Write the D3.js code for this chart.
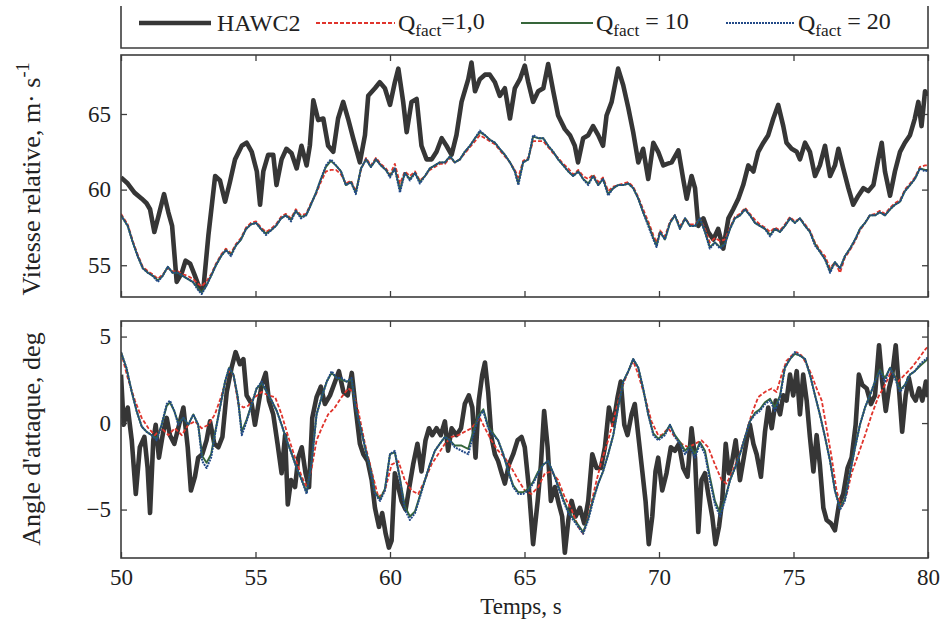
<!DOCTYPE html>
<html><head><meta charset="utf-8">
<script src="https://cdn.jsdelivr.net/npm/d3@7"></script>
<style>
html,body{margin:0;padding:0;background:#fff;}
svg text{font-family:"Liberation Serif","Times New Roman",serif;fill:#222;}
</style></head>
<body>
<svg id="chart" width="942" height="628"></svg>
<script>
// ---------------- DATA ----------------
const xTicks = [50,55,60,65,70,75,80];
const speedTicks = [55,60,65];
const aoaTicks = [-5,0,5];
const seriesNames = ["HAWC2","Q|fact|=1,0","Q|fact| = 10","Q|fact| = 20"];
const xLabel = "Temps, s";
const speedLabel = "Vitesse relative, m\u00b7 s";
const aoaLabel = "Angle d'attaque, deg";

// HAWC2 relative speed [time, value]
const hawcSpeed = [[50.0,60.8],[50.25,60.4],[50.5,59.8],[50.77,59.4],[50.95,59.1],[51.08,58.7],[51.24,57.2],[51.4,58.3],[51.6,59.7],[51.76,58.5],[51.9,57.6],[52.07,53.9],[52.26,54.5],[52.4,55.3],[52.57,55.1],[52.75,54.3],[52.94,53.4],[53.07,53.6],[53.25,57.0],[53.5,60.9],[53.68,60.6],[53.87,59.2],[54.05,60.5],[54.24,62.0],[54.49,62.9],[54.67,63.1],[54.86,62.5],[55.05,61.2],[55.17,59.0],[55.29,61.2],[55.47,62.3],[55.66,62.3],[55.78,60.3],[55.97,62.0],[56.15,62.7],[56.34,62.4],[56.53,61.4],[56.71,62.9],[56.9,61.6],[57.02,62.9],[57.15,65.9],[57.33,64.6],[57.52,64.7],[57.7,62.9],[57.89,62.5],[58.07,64.7],[58.26,65.8],[58.44,64.7],[58.63,63.4],[58.88,61.8],[59.07,63.6],[59.19,66.2],[59.44,66.7],[59.62,67.1],[59.81,66.7],[60.0,65.6],[60.18,67.1],[60.31,68.0],[60.49,65.8],[60.62,63.8],[60.8,65.8],[60.99,66.0],[61.17,62.9],[61.36,62.0],[61.55,62.0],[61.73,62.5],[61.92,63.4],[62.1,62.9],[62.29,62.3],[62.47,63.6],[62.66,65.8],[62.91,67.3],[63.03,68.4],[63.16,66.5],[63.34,67.3],[63.53,67.6],[63.71,67.6],[63.9,67.1],[64.08,66.2],[64.27,66.7],[64.46,64.7],[64.64,66.7],[64.83,67.3],[65.01,68.2],[65.14,67.1],[65.32,65.8],[65.51,66.5],[65.7,66.7],[65.88,68.3],[66.07,66.5],[66.25,64.9],[66.5,64.0],[66.69,63.6],[66.87,62.9],[66.99,61.8],[67.18,63.4],[67.37,63.6],[67.55,64.2],[67.74,63.6],[67.92,62.9],[68.05,64.9],[68.24,65.8],[68.48,68.0],[68.67,66.9],[68.86,65.4],[69.04,63.8],[69.23,61.8],[69.41,62.7],[69.6,60.7],[69.79,63.1],[69.97,62.5],[70.16,61.6],[70.3,61.7],[70.47,61.8],[70.72,62.6],[70.9,60.7],[71.03,59.4],[71.21,60.9],[71.34,60.1],[71.46,57.6],[71.65,58.1],[71.83,57.2],[72.02,56.7],[72.2,57.4],[72.39,56.1],[72.58,58.1],[72.76,58.7],[72.95,59.4],[73.13,60.3],[73.32,61.6],[73.51,61.2],[73.69,62.5],[73.88,63.1],[74.06,63.6],[74.25,64.7],[74.43,65.6],[74.62,64.2],[74.74,63.1],[74.93,62.7],[75.12,62.5],[75.24,62.0],[75.43,63.1],[75.61,62.5],[75.8,60.9],[75.98,61.6],[76.17,62.9],[76.36,60.9],[76.54,61.6],[76.67,62.7],[76.85,61.4],[77.04,60.1],[77.22,59.0],[77.41,59.6],[77.6,60.1],[77.78,59.9],[77.97,60.3],[78.15,62.0],[78.28,63.1],[78.4,61.2],[78.59,59.6],[78.77,61.2],[78.96,62.5],[79.14,63.1],[79.33,63.6],[79.51,64.7],[79.64,65.8],[79.76,64.2],[79.89,66.5],[80.0,66.2]];

// model relative speed: shared times, one value list per Q factor
const speedModelT = [50.0,50.25,50.44,50.62,50.81,51.0,51.18,51.37,51.55,51.74,51.92,52.11,52.29,52.48,52.67,52.85,53.0,53.16,53.35,53.53,53.72,53.9,54.09,54.27,54.46,54.65,54.83,55.02,55.2,55.39,55.57,55.76,55.95,56.13,56.32,56.5,56.69,56.88,57.06,57.25,57.43,57.62,57.8,57.99,58.18,58.36,58.55,58.73,58.92,59.11,59.29,59.48,59.66,59.85,60.0,60.18,60.37,60.55,60.74,60.93,61.11,61.3,61.48,61.67,61.85,62.04,62.23,62.41,62.6,62.78,62.97,63.16,63.34,63.53,63.71,63.9,64.08,64.27,64.46,64.64,64.77,64.95,65.14,65.32,65.51,65.7,65.88,66.07,66.25,66.44,66.63,66.81,67.0,67.18,67.37,67.55,67.74,67.92,68.11,68.3,68.48,68.67,68.86,69.04,69.23,69.41,69.6,69.79,69.91,70.04,70.22,70.41,70.59,70.78,70.97,71.15,71.34,71.52,71.71,71.89,72.08,72.27,72.45,72.64,72.82,73.01,73.2,73.38,73.57,73.75,73.94,74.13,74.31,74.5,74.68,74.87,75.05,75.24,75.43,75.61,75.8,75.98,76.17,76.36,76.54,76.73,76.91,77.1,77.29,77.47,77.66,77.84,78.03,78.21,78.4,78.59,78.77,78.96,79.14,79.33,79.51,79.7,79.89,80.0];
const q1Speed = [58.4,57.7,56.6,55.7,54.9,54.6,54.4,54.1,54.4,54.8,54.6,54.6,54.4,54.3,54.1,53.8,53.6,53.9,54.4,55.1,55.7,56.1,55.8,56.4,56.8,57.5,57.8,57.9,57.5,57.2,57.4,57.7,58.2,58.4,58.1,58.7,58.3,58.4,59.1,59.7,60.5,61.2,61.3,61.3,61.0,60.4,60.6,59.9,61.3,62.1,61.6,62.1,61.7,61.4,61.0,61.7,60.4,61.2,60.9,61.2,60.6,60.9,61.3,61.5,61.7,61.7,62.1,61.8,62.0,62.4,62.8,63.2,63.6,63.4,63.2,63.0,62.6,62.2,61.8,61.3,60.8,61.9,62.1,63.2,63.2,63.2,62.8,62.4,62.1,61.7,61.4,61.0,61.3,60.9,60.7,61.0,60.5,60.8,59.9,60.2,60.3,60.4,60.5,60.2,59.5,58.7,57.9,57.0,56.5,57.3,56.9,57.9,58.3,57.6,58.1,57.7,57.7,58.1,57.4,56.5,56.8,56.6,56.7,57.5,58.2,58.4,58.8,58.4,58.0,57.7,57.5,57.2,57.5,57.3,57.7,58.2,57.9,58.1,57.7,57.3,56.5,56.0,55.6,54.8,55.2,54.5,55.5,56.0,56.6,57.3,57.8,58.3,58.4,58.6,58.4,58.8,59.1,59.3,60.0,60.4,60.8,61.5,61.6,61.6];
const q10Speed = [58.3,57.6,56.5,55.6,54.8,54.5,54.3,54.0,54.3,54.9,54.5,54.5,54.3,54.1,53.9,53.5,53.2,53.6,54.3,55.0,55.6,56.0,55.7,56.3,56.7,57.4,57.7,57.8,57.4,57.1,57.3,57.6,58.1,58.3,58.0,58.6,58.2,58.3,59.0,59.8,60.7,61.5,61.9,61.6,61.2,60.3,60.5,59.8,61.4,62.0,61.5,62.0,61.6,61.3,60.9,61.4,60.0,61.1,60.7,61.1,60.5,60.9,61.4,61.6,61.8,61.8,62.2,61.8,62.0,62.5,62.9,63.4,63.8,63.6,63.3,63.1,62.7,62.3,61.8,61.2,60.4,61.8,62.0,63.5,63.4,63.4,62.9,62.5,62.0,61.6,61.2,60.9,61.2,60.7,60.4,60.9,60.3,60.7,59.7,60.1,60.3,60.3,60.4,60.1,59.4,58.5,57.7,56.8,56.3,57.2,56.7,57.8,58.3,57.4,58.1,57.6,57.6,58.1,57.2,56.2,56.5,56.2,56.4,57.4,58.1,58.3,58.7,58.3,57.8,57.6,57.4,57.0,57.4,57.2,57.6,58.1,57.8,58.1,57.6,57.2,56.4,55.9,55.4,54.6,55.2,54.8,55.6,56.1,56.7,57.4,57.8,58.3,58.3,58.5,58.3,58.7,59.0,59.2,59.9,60.3,60.7,61.4,61.3,61.3];
const q20Speed = [58.3,57.6,56.5,55.6,54.8,54.5,54.3,53.9,54.3,54.9,54.5,54.5,54.3,54.1,53.9,53.4,53.1,53.6,54.3,55.0,55.6,56.0,55.6,56.3,56.7,57.4,57.7,57.8,57.4,57.0,57.3,57.6,58.1,58.3,57.9,58.6,58.1,58.3,59.0,59.8,60.7,61.6,62.0,61.6,61.2,60.3,60.5,59.7,61.4,62.0,61.5,62.0,61.6,61.3,60.8,61.4,59.8,61.1,60.6,61.1,60.4,60.9,61.4,61.6,61.8,61.8,62.2,61.8,62.0,62.5,62.9,63.4,63.9,63.6,63.3,63.1,62.7,62.3,61.8,61.2,60.3,61.8,62.0,63.6,63.4,63.4,62.9,62.5,62.0,61.6,61.2,60.9,61.2,60.7,60.3,60.9,60.3,60.7,59.6,60.1,60.3,60.3,60.4,60.1,59.4,58.5,57.6,56.7,56.2,57.2,56.7,57.8,58.3,57.4,58.1,57.6,57.6,58.1,57.2,56.1,56.5,56.1,56.4,57.4,58.1,58.3,58.7,58.3,57.8,57.6,57.4,56.9,57.4,57.2,57.6,58.1,57.8,58.1,57.6,57.2,56.3,55.9,55.4,54.5,55.2,54.8,55.6,56.1,56.7,57.4,57.8,58.3,58.3,58.5,58.3,58.7,59.0,59.2,59.9,60.3,60.7,61.4,61.2,61.3];

// HAWC2 angle of attack [time, value]
const hawcAoa = [[50.0,2.8],[50.1,-0.1],[50.25,0.9],[50.4,-1.0],[50.55,-4.1],[50.7,-1.4],[50.87,-0.8],[50.99,-2.6],[51.08,-5.2],[51.2,-1.0],[51.29,-0.1],[51.41,-2.0],[51.57,-0.5],[51.7,0.3],[51.82,-0.7],[51.98,-1.2],[52.16,-0.1],[52.32,0.9],[52.48,-1.4],[52.6,-3.9],[52.75,-3.1],[52.87,-2.0],[53.02,-1.8],[53.18,-1.0],[53.31,0.1],[53.47,-1.2],[53.62,-1.4],[53.77,-0.8],[53.93,1.8],[54.11,3.2],[54.26,4.1],[54.42,3.4],[54.55,3.7],[54.67,1.6],[54.86,1.1],[54.98,-0.1],[55.11,1.1],[55.23,2.2],[55.38,2.9],[55.5,1.3],[55.66,0.5],[55.82,-1.2],[55.97,-2.9],[56.1,-0.7],[56.2,-4.7],[56.32,-3.3],[56.47,-3.7],[56.59,-2.0],[56.72,-1.4],[56.86,-2.9],[56.99,-3.7],[57.11,0.3],[57.27,1.5],[57.43,2.1],[57.58,1.1],[57.77,1.6],[57.96,2.4],[58.1,3.0],[58.27,1.8],[58.43,1.6],[58.58,2.9],[58.72,0.9],[58.88,-1.2],[59.01,-1.8],[59.17,-2.2],[59.32,-3.3],[59.44,-4.9],[59.59,-6.0],[59.71,-5.2],[59.84,-6.4],[59.96,-7.2],[60.06,-6.8],[60.18,-2.9],[60.31,-3.7],[60.43,-4.5],[60.58,-5.0],[60.74,-3.5],[60.86,-2.4],[61.02,-1.2],[61.17,-2.8],[61.32,-1.0],[61.45,-0.3],[61.57,-0.7],[61.73,-0.3],[61.89,-0.7],[62.04,0.1],[62.16,-1.6],[62.29,-0.3],[62.47,-0.7],[62.64,-0.3],[62.78,1.1],[62.93,1.6],[63.06,0.9],[63.18,-2.0],[63.3,1.3],[63.43,2.8],[63.53,3.5],[63.65,1.8],[63.77,-0.8],[63.9,-1.8],[64.02,-2.2],[64.15,-2.9],[64.27,-3.5],[64.42,-2.4],[64.58,-1.8],[64.74,-1.0],[64.89,-0.8],[65.01,-1.4],[65.16,-3.7],[65.32,-7.0],[65.49,-4.5],[65.61,-2.4],[65.73,0.7],[65.86,-1.4],[65.98,-4.5],[66.13,-3.7],[66.28,-4.7],[66.4,-5.4],[66.5,-7.5],[66.63,-5.6],[66.75,-4.5],[66.9,-5.4],[67.06,-4.9],[67.22,-5.8],[67.37,-4.5],[67.52,-1.8],[67.68,-2.6],[67.84,-2.6],[67.99,-1.4],[68.14,0.9],[68.3,-0.1],[68.46,1.5],[68.58,2.4],[68.71,-0.1],[68.83,-0.7],[68.98,0.5],[69.1,1.1],[69.25,-1.0],[69.38,-2.8],[69.5,-4.5],[69.62,-7.0],[69.75,-5.4],[69.87,-2.8],[69.97,-2.0],[70.12,-3.9],[70.28,-2.9],[70.44,-1.4],[70.59,-1.6],[70.74,-1.2],[70.9,-2.6],[71.06,-3.1],[71.21,-0.3],[71.34,-2.0],[71.46,-6.3],[71.58,-3.3],[71.71,-2.9],[71.83,-4.1],[71.98,-5.4],[72.1,-7.0],[72.23,-6.0],[72.35,-4.5],[72.48,-1.2],[72.6,-2.9],[72.72,-2.2],[72.85,-1.0],[73.01,-3.3],[73.13,-2.2],[73.26,-1.0],[73.38,-0.1],[73.51,-1.2],[73.63,-1.8],[73.79,-3.1],[73.94,-0.5],[74.06,0.9],[74.19,-0.3],[74.34,1.3],[74.5,0.5],[74.62,1.6],[74.74,1.3],[74.87,2.8],[74.99,1.6],[75.12,3.0],[75.24,0.5],[75.36,2.8],[75.49,1.3],[75.61,-0.8],[75.74,-2.8],[75.86,-0.7],[75.98,-2.4],[76.11,-4.9],[76.23,-5.6],[76.39,-5.8],[76.54,-6.2],[76.69,-4.7],[76.85,-4.1],[77.01,-2.6],[77.16,-2.0],[77.31,-0.1],[77.43,2.8],[77.56,2.2],[77.72,2.0],[77.88,1.1],[78.03,1.6],[78.18,4.5],[78.3,2.4],[78.43,0.7],[78.55,2.0],[78.67,2.8],[78.8,4.5],[78.92,2.0],[79.04,-0.5],[79.17,1.6],[79.29,2.6],[79.42,1.6],[79.54,1.3],[79.67,2.0],[79.79,1.3],[79.92,2.4],[80.0,1.5]];

// Q_fact = 1,0 angle of attack [time, value]
const q1Aoa = [[50.0,4.1],[50.25,2.6],[50.52,1.3],[50.77,0.3],[51.02,-0.3],[51.26,-0.7],[51.51,-0.3],[51.76,-0.7],[52.0,-0.3],[52.26,-0.7],[52.5,-0.1],[52.75,0.1],[53.0,-0.3],[53.25,-0.1],[53.49,0.5],[53.74,1.6],[53.99,3.0],[54.18,2.8],[54.36,1.1],[54.55,0.9],[54.73,1.0],[54.98,1.5],[55.23,1.8],[55.48,1.6],[55.73,1.5],[55.97,0.5],[56.22,-0.8],[56.47,-2.0],[56.72,-3.1],[56.9,-3.7],[57.09,-2.6],[57.27,-1.0],[57.46,-0.3],[57.7,0.5],[57.95,0.9],[58.2,1.5],[58.45,2.0],[58.63,1.8],[58.82,0.7],[59.07,-1.2],[59.32,-2.8],[59.57,-4.3],[59.81,-3.9],[60.06,-2.4],[60.31,-2.2],[60.55,-3.3],[60.8,-3.9],[61.05,-4.1],[61.3,-3.3],[61.54,-2.4],[61.79,-1.8],[62.04,-1.2],[62.29,-0.8],[62.54,-0.7],[62.78,-0.5],[63.03,-0.3],[63.34,0.3],[63.53,-0.3],[63.77,-1.0],[64.02,-1.6],[64.27,-2.0],[64.52,-2.6],[64.77,-3.3],[65.01,-3.9],[65.26,-4.1],[65.51,-3.7],[65.76,-2.9],[66.0,-2.8],[66.25,-3.3],[66.5,-4.3],[66.75,-5.0],[67.0,-6.0],[67.18,-6.4],[67.37,-5.4],[67.62,-3.7],[67.86,-2.2],[68.11,-1.0],[68.36,0.5],[68.61,2.0],[68.86,3.0],[69.04,3.6],[69.23,2.8],[69.48,1.5],[69.72,0.1],[69.97,-0.7],[70.1,-0.7],[70.34,-0.3],[70.59,-0.8],[70.84,-1.2],[71.09,-1.4],[71.34,-1.2],[71.58,-1.0],[71.83,-1.4],[72.08,-2.4],[72.33,-3.3],[72.51,-3.5],[72.7,-2.9],[72.95,-2.0],[73.2,-0.8],[73.44,0.5],[73.69,1.5],[73.94,1.8],[74.19,2.0],[74.37,1.8],[74.56,2.8],[74.74,3.6],[74.93,3.9],[75.12,4.1],[75.3,3.9],[75.49,3.4],[75.67,2.8],[75.86,2.0],[76.05,1.3],[76.23,-0.3],[76.42,-2.0],[76.6,-3.9],[76.79,-4.9],[76.98,-4.1],[77.16,-2.9],[77.41,-1.8],[77.66,-0.7],[77.91,0.5],[78.15,1.5],[78.4,2.2],[78.64,3.0],[78.89,2.4],[79.14,2.8],[79.39,3.2],[79.64,3.7],[79.92,4.3],[80.0,4.4]];

// Q_fact = 10 and 20 angle of attack: shared times
const aoaModelT = [50.0,50.2,50.4,50.58,50.77,50.95,51.14,51.33,51.51,51.7,51.82,51.98,52.13,52.32,52.5,52.69,52.87,53.02,53.18,53.35,53.49,53.68,53.87,54.02,54.18,54.34,54.49,54.67,54.86,55.04,55.23,55.42,55.6,55.79,55.97,56.16,56.35,56.53,56.72,56.9,57.09,57.27,57.46,57.65,57.83,58.02,58.2,58.39,58.57,58.72,58.88,59.07,59.26,59.44,59.63,59.81,60.0,60.18,60.37,60.55,60.74,60.93,61.11,61.3,61.48,61.67,61.85,62.04,62.23,62.41,62.66,62.91,63.09,63.28,63.47,63.65,63.84,64.02,64.21,64.4,64.58,64.77,64.95,65.14,65.32,65.51,65.7,65.88,66.07,66.25,66.44,66.63,66.81,67.0,67.18,67.37,67.55,67.74,67.92,68.11,68.3,68.48,68.67,68.86,69.04,69.23,69.41,69.6,69.79,69.97,70.22,70.41,70.59,70.78,70.97,71.15,71.34,71.52,71.71,71.89,72.08,72.27,72.45,72.64,72.82,73.01,73.2,73.38,73.57,73.75,73.94,74.13,74.31,74.5,74.68,74.87,75.05,75.24,75.43,75.61,75.8,75.98,76.17,76.36,76.54,76.73,76.91,77.1,77.29,77.47,77.66,77.84,78.03,78.21,78.4,78.59,78.77,78.96,79.14,79.33,79.51,79.7,79.92,80.0];
const q10Aoa = [4.1,3.2,1.8,0.7,-0.2,-0.5,-0.7,-0.9,-0.1,1.0,1.2,0.7,0.0,0.3,-0.1,0.5,-0.1,-1.9,-2.3,-1.8,-0.6,0.9,2.4,3.2,2.8,1.5,-0.5,0.2,1.1,2.0,2.3,1.8,1.3,0.7,-0.1,-1.0,-1.8,-2.6,-3.3,-4.0,-2.2,0.5,1.5,2.4,2.9,2.6,2.5,2.4,2.5,0.9,-0.1,-1.4,-2.6,-4.0,-4.4,-3.8,-1.8,-1.7,-3.2,-4.8,-5.4,-5.1,-4.2,-3.3,-2.4,-1.6,-1.2,-0.8,-1.0,-1.3,-1.3,-1.5,-0.5,0.4,0.8,-0.2,-0.6,-1.0,-1.8,-2.8,-3.6,-4.0,-4.0,-3.8,-3.4,-2.8,-2.4,-2.2,-2.9,-3.6,-4.4,-5.1,-5.5,-5.9,-6.3,-5.5,-4.4,-3.5,-2.8,-1.8,-0.7,0.9,2.4,3.0,3.7,3.2,2.0,0.5,-0.6,-0.9,-0.6,-0.1,-0.7,-1.1,-1.6,-1.3,-1.8,-1.1,-1.6,-3.1,-4.5,-5.2,-4.4,-3.3,-2.6,-1.8,-0.8,0.1,0.6,0.8,1.2,1.4,0.9,1.6,3.2,3.7,4.0,3.9,3.7,2.8,1.6,0.5,-0.8,-2.2,-3.9,-4.9,-4.4,-2.9,-1.4,-0.1,0.9,1.6,2.4,3.1,2.6,3.2,2.7,1.9,2.2,2.8,3.0,3.3,3.6,3.7];
const q20Aoa = [4.1,3.2,1.8,0.7,-0.2,-0.5,-0.7,-1.0,-0.1,1.1,1.3,0.7,-0.1,0.3,-0.1,0.5,-0.1,-2.2,-2.6,-2.0,-0.7,0.9,2.4,3.2,2.8,1.5,-0.7,0.1,1.1,2.0,2.4,1.8,1.3,0.7,-0.1,-1.0,-1.8,-2.6,-3.3,-4.1,-2.2,0.5,1.5,2.4,3.0,2.6,2.6,2.4,2.6,0.9,-0.1,-1.4,-2.6,-4.1,-4.5,-3.9,-1.8,-1.6,-3.3,-5.0,-5.6,-5.2,-4.3,-3.3,-2.4,-1.6,-1.2,-0.8,-1.0,-1.4,-1.6,-1.8,-0.7,0.3,0.7,-0.3,-0.7,-1.0,-1.8,-2.8,-3.7,-4.1,-4.1,-3.9,-3.5,-2.9,-2.4,-2.2,-2.9,-3.7,-4.5,-5.2,-5.6,-6.0,-6.4,-5.6,-4.5,-3.5,-2.8,-1.8,-0.7,0.9,2.4,3.0,3.7,3.2,2.0,0.5,-0.7,-1.0,-0.7,-0.1,-0.8,-1.2,-1.8,-1.4,-2.0,-1.2,-1.8,-3.3,-4.7,-5.4,-4.5,-3.3,-2.6,-1.8,-0.8,0.1,0.5,0.7,1.1,1.3,0.7,1.5,3.2,3.7,4.1,3.9,3.7,2.8,1.6,0.5,-0.8,-2.2,-3.9,-5.0,-4.5,-2.9,-1.4,-0.1,0.9,1.6,2.4,3.0,2.4,3.2,2.6,1.8,2.2,2.8,3.0,3.4,3.7,3.8];

// ---------------- DRAW ----------------
const svg = d3.select("#chart");
const X0 = 121, X1 = 928;
const x = d3.scaleLinear().domain([50,80]).range([X0,X1]);
const panels = [
  {top:55, bot:297, y:d3.scaleLinear().domain([52.9,68.9]).range([297,55]), ticks:speedTicks, label:speedLabel, sup:"-1", labY:179},
  {top:321, bot:558, y:d3.scaleLinear().domain([-7.8,5.9]).range([558,321]), ticks:aoaTicks, label:aoaLabel, sup:null, labY:439}
];
const styles = [
  {color:"#363636", width:4.6, dash:null},
  {color:"#e0342c", width:1.8, dash:"4,2"},
  {color:"#36663a", width:1.9, dash:null},
  {color:"#234a88", width:2.0, dash:"2,1"}
];
const frameColor = "#3d3d3d";
const fontSize = 23;

const speedSeries = [
  hawcSpeed,
  speedModelT.map((t,i)=>[t,q1Speed[i]]),
  speedModelT.map((t,i)=>[t,q10Speed[i]]),
  speedModelT.map((t,i)=>[t,q20Speed[i]])
];
const aoaSeries = [
  hawcAoa,
  q1Aoa,
  aoaModelT.map((t,i)=>[t,q10Aoa[i]]),
  aoaModelT.map((t,i)=>[t,q20Aoa[i]])
];
const allSeries = [speedSeries, aoaSeries];

panels.forEach((p, pi) => {
  const g = svg.append("g");
  const clipId = "clip"+pi;
  svg.append("clipPath").attr("id", clipId).append("rect")
     .attr("x", X0).attr("y", p.top).attr("width", X1-X0).attr("height", p.bot-p.top);

  const line = d3.line().x(d=>x(d[0])).y(d=>p.y(d[1]));
  allSeries[pi].forEach((s, si) => {
    const st = styles[si];
    g.append("path").datum(s)
      .attr("clip-path", `url(#${clipId})`)
      .attr("d", line)
      .attr("fill","none")
      .attr("stroke", st.color)
      .attr("stroke-width", st.width)
      .attr("stroke-linejoin","round")
      .attr("stroke-dasharray", st.dash);
  });

  const ax = [];
  ax.push(g.append("g").attr("transform",`translate(${X0},0)`)
     .call(d3.axisLeft(p.y).tickValues(p.ticks).tickSize(-6).tickPadding(10).tickFormat(d3.format("d"))));
  ax.push(g.append("g").attr("transform",`translate(${X1},0)`)
     .call(d3.axisRight(p.y).tickValues(p.ticks).tickSize(-6).tickFormat("")));
  ax.push(g.append("g").attr("transform",`translate(0,${p.top})`)
     .call(d3.axisTop(x).tickValues(xTicks).tickSize(-6).tickFormat("")));
  ax.push(g.append("g").attr("transform",`translate(0,${p.bot})`)
     .call(d3.axisBottom(x).tickValues(xTicks).tickSize(-6).tickPadding(11)
       .tickFormat(pi===1 ? d3.format("d") : "")));
  ax.forEach(a => {
    a.select(".domain").remove();
    a.selectAll(".tick line").attr("stroke", frameColor).attr("stroke-width",1.3);
    a.selectAll(".tick text").attr("font-family",'"Liberation Serif",serif')
      .attr("font-size", fontSize).attr("fill","#222");
  });

  g.append("rect").attr("x",X0).attr("y",p.top).attr("width",X1-X0).attr("height",p.bot-p.top)
    .attr("fill","none").attr("stroke",frameColor).attr("stroke-width",1.6);

  const t = svg.append("text")
    .attr("transform",`translate(40,${p.labY}) rotate(-90)`)
    .attr("text-anchor","middle").attr("font-size", 26)
    .text(p.label);
  if (p.sup) t.append("tspan").attr("dy","-0.6em").attr("font-size","0.7em").text(p.sup);
});

svg.append("text").attr("x", 521).attr("y", 614).attr("text-anchor","middle")
  .attr("font-size", fontSize).text(xLabel);

// legend box
const lg = svg.append("g");
lg.append("path").attr("d",`M${X0},6 V48 H${X1} V6`).attr("fill","none")
  .attr("stroke",frameColor).attr("stroke-width",1.6);
const legendPos = [[139,211,217],[316,395,398],[521,593,596],[726,795,798]];
seriesNames.forEach((name, i) => {
  const st = styles[i], [a,b,tx] = legendPos[i];
  lg.append("line").attr("x1",a).attr("x2",b).attr("y1",23).attr("y2",23)
    .attr("stroke",st.color).attr("stroke-width",st.width).attr("stroke-dasharray",st.dash);
  const parts = name.split("|");
  const t = lg.append("text").attr("x",tx).attr("y",31).attr("font-size",24);
  t.append("tspan").text(parts[0]);
  if (parts.length > 1) {
    t.append("tspan").attr("dy","0.3em").attr("font-size","0.72em").text(parts[1]);
    t.append("tspan").attr("dy","-0.3em").text(parts[2]);
  }
});
</script>
</body></html>
